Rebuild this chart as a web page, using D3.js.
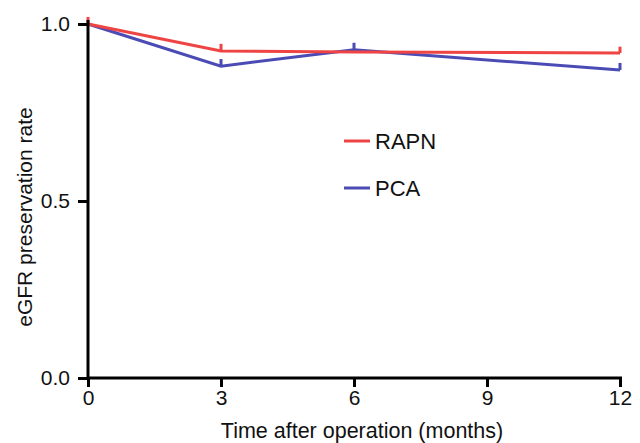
<!DOCTYPE html>
<html><head><meta charset="utf-8">
<script src="https://cdn.jsdelivr.net/npm/d3@7"></script>
<style>body{margin:0;background:#fff}svg{display:block}text{font-family:"Liberation Sans",Arial,sans-serif}</style>
</head><body>
<svg id="c" width="640" height="443"></svg>
<script>
const months = [0, 3, 6, 9, 12];
const timepoints = [0, 3, 6, 12];
const rapn = [1.0, 0.924, 0.921, 0.918];
const rapnErr = [0.02, 0.02, 0.0, 0.018];
const pca = [1.0, 0.881, 0.927, 0.870];
const pcaErr = [0.0, 0.02, 0.02, 0.02];
const yTicks = [0.0, 0.5, 1.0];
const seriesNames = ["RAPN", "PCA"];
const colors = ["#ee4444", "#4b4bb5"];

const svg = d3.select("#c");
const x = d3.scaleLinear().domain([0, 12]).range([88, 620]);
const y = d3.scaleLinear().domain([0, 1]).range([378, 24]);

const series = [
  {name: seriesNames[0], vals: rapn, err: rapnErr, color: colors[0]},
  {name: seriesNames[1], vals: pca, err: pcaErr, color: colors[1]}
];

const line = d3.line().x((d,i)=>x(timepoints[i])).y(d=>y(d));
series.slice().reverse().forEach(s => {
  svg.append("path").attr("d", line(s.vals)).attr("fill","none")
    .attr("stroke", s.color).attr("stroke-width", 3);
  s.vals.forEach((v,i)=>{
    if (s.err[i] > 0) {
      svg.append("line").attr("x1", x(timepoints[i])).attr("x2", x(timepoints[i]))
        .attr("y1", y(v)).attr("y2", y(v + s.err[i]))
        .attr("stroke", s.color).attr("stroke-width", 3);
    }
  });
});

// axes
const yAxis = d3.axisLeft(y).tickValues(yTicks).tickFormat(d3.format(".1f")).tickSize(10).tickPadding(8);
const gy = svg.append("g").attr("transform","translate(88,0)").call(yAxis);
gy.select(".domain").attr("d", "M0,20V378").attr("stroke","#000").attr("stroke-width",3);
gy.selectAll(".tick line").attr("stroke-width",3);
gy.selectAll("text").attr("font-size",21).attr("fill","#111");

const xAxis = d3.axisBottom(x).tickValues(months).tickSize(9).tickPadding(3);
const gx = svg.append("g").attr("transform","translate(0,378)").call(xAxis);
gx.select(".domain").attr("d", "M88,0H622").attr("stroke","#000").attr("stroke-width",3);
gx.selectAll(".tick line").attr("stroke-width",3);
gx.selectAll("text").attr("font-size",21).attr("fill","#111");

svg.append("text").attr("x", 362).attr("y", 438).attr("text-anchor","middle")
  .attr("font-size",21.5).attr("fill","#111").text("Time after operation (months)");
svg.append("text").attr("transform","translate(32,217) rotate(-90)").attr("text-anchor","middle")
  .attr("font-size",21).attr("fill","#111").text("eGFR preservation rate");

// legend
series.forEach((s,i)=>{
  const ly = 141 + i*47;
  svg.append("line").attr("x1",344).attr("x2",370).attr("y1",ly).attr("y2",ly)
    .attr("stroke", s.color).attr("stroke-width",3);
  svg.append("text").attr("x",375).attr("y",ly+8).attr("font-size",22).attr("fill","#111").text(s.name);
});
</script>
</body></html>
